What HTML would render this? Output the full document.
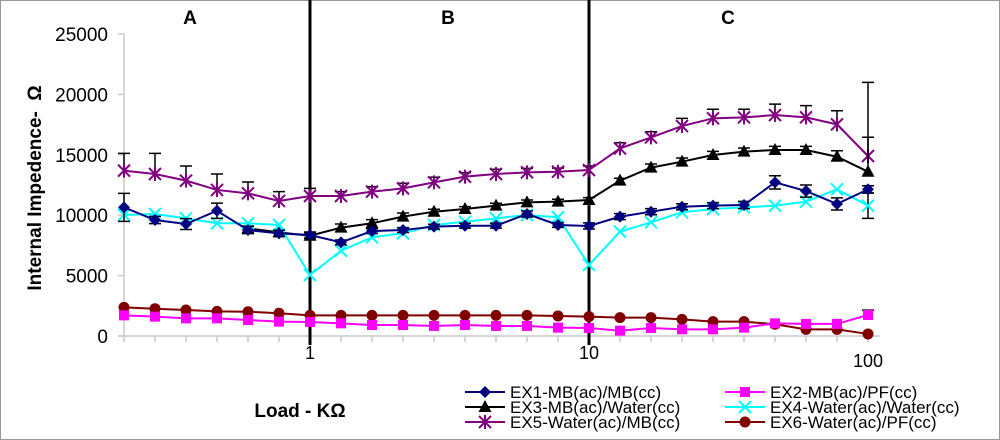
<!DOCTYPE html>
<html><head><meta charset="utf-8"><style>
html,body{margin:0;padding:0;background:#fff;}
svg{display:block;font-family:"Liberation Sans",sans-serif;}
</style></head><body>
<svg id="chart" width="1000" height="440" viewBox="0 0 1000 440" xmlns="http://www.w3.org/2000/svg">
<rect x="0.5" y="0.5" width="999" height="439" fill="#fff" stroke="#999"/>
<g id="plot"></g>
<text x="190" y="24" font-size="19" font-weight="bold" text-anchor="middle">A</text>
<text x="448" y="24" font-size="19" font-weight="bold" text-anchor="middle">B</text>
<text x="728" y="24" font-size="19" font-weight="bold" text-anchor="middle">C</text>
<text xml:space="preserve" style="white-space:pre" transform="translate(41,188) rotate(-90)" font-size="19" font-weight="bold" text-anchor="middle">Internal Impedence-  Ω</text>
<text x="300" y="417" font-size="19" font-weight="bold" text-anchor="middle">Load - KΩ</text>
<g id="legend"></g>
</svg>
<script>
const categories = [0.215,0.278,0.359,0.464,0.599,0.774,1,1.29,1.67,2.15,2.78,3.59,4.64,5.99,7.74,10,12.9,16.7,21.5,27.8,35.9,46.4,59.9,77.4,100];
const xTickLabels = ["1","10","100"];
const xTickIndex = [6,15,24];
const yTicks = [0,5000,10000,15000,20000,25000];
const ex1 = [10650,9600,9270,10370,8770,8500,8360,7750,8690,8770,9050,9130,9130,10100,9190,9110,9880,10290,10700,10790,10840,12720,12000,10930,12140];
const ex1Err = [1160,300,450,630,300,250,250,200,200,200,200,200,200,250,200,250,250,250,250,250,300,550,500,500,300];
const ex2 = [1710,1600,1460,1460,1320,1190,1160,1050,910,910,830,910,830,830,690,660,440,660,550,550,690,1050,1000,1000,1740];
const ex2Err = [0,0,0,0,0,0,0,0,0,0,0,0,0,0,0,0,0,0,0,0,0,0,0,0,400];
const ex3 = [null,null,null,null,8910,8580,8300,8970,9330,9880,10290,10510,10790,11060,11120,11260,12860,13940,14430,14980,15260,15400,15400,14840,13600];
const ex3Err = [0,0,0,0,200,200,250,300,300,300,200,200,200,200,200,200,200,300,300,300,300,300,300,500,7400];
const ex4 = [10020,10100,9740,9330,9330,9190,5050,7060,8170,8500,9190,9460,9740,10020,9830,5880,8640,9410,10240,10510,10650,10790,11120,12140,10790];
const ex4Err = [0,0,0,0,0,0,0,0,0,0,0,0,0,0,0,0,0,0,0,0,0,0,0,0,1050];
const ex5 = [13690,13410,12860,12090,11810,11180,11590,11590,11950,12220,12720,13190,13410,13550,13600,13740,15530,16440,17380,18020,18100,18290,18100,17520,14900];
const ex5Err = [1430,1710,1210,1320,940,770,630,360,410,420,420,330,390,330,300,330,470,470,640,750,670,910,970,1130,1550];
const ex6 = [2370,2260,2150,2040,2010,1880,1710,1710,1710,1710,1710,1710,1710,1710,1660,1600,1520,1520,1380,1190,1190,970,550,550,170];

const NS="http://www.w3.org/2000/svg";
const X0=124, STEP=31, Y0=336, YMAX=25000, YH=302;
function xPos(i){return X0+STEP*i;}
function yPos(v){return Y0-v/YMAX*YH;}
function mk(tag,attrs,parent){const e=document.createElementNS(NS,tag);for(const k in attrs)e.setAttribute(k,attrs[k]);parent.appendChild(e);return e;}
const plot=document.getElementById('plot');

let ax=mk('line',{x1:X0,y1:yPos(YMAX),x2:X0,y2:Y0+1,stroke:'#c8c8c8','stroke-width':1.5},plot);


let bx=mk('line',{x1:X0-6,y1:Y0,x2:880,y2:Y0,stroke:'#c8c8c8','stroke-width':1.5},plot);


yTicks.forEach(v=>{
  const y=yPos(v);
  let t=mk('line',{x1:X0-6,y1:y,x2:X0,y2:y,stroke:'#c8c8c8','stroke-width':1.5},plot);
  
  
  let l=mk('text',{x:108,y:y+7,'font-size':19,'text-anchor':'end'},plot);
  l.textContent=String(v);
  
  
});
categories.forEach((c,i)=>{
  let t=mk('line',{x1:xPos(i),y1:Y0,x2:xPos(i),y2:Y0+6,stroke:'#c8c8c8','stroke-width':1.5},plot);
  
  
});
xTickLabels.forEach((s,k)=>{
  const i=xTickIndex[k];
  let l=mk('text',{x:xPos(i),y:k===2?367:359,'font-size':18,'text-anchor':'middle'},plot);
  l.textContent=s;
  
  
});
[6,15].forEach(i=>{
  let d=mk('line',{x1:xPos(i),y1:0,x2:xPos(i),y2:345,stroke:'#000','stroke-width':3},plot);
  
  
});

function marker(g,type,x,y,color){
  let m;
  if(type==='diamond') m=mk('polygon',{points:`${x},${y-6} ${x+6},${y} ${x},${y+6} ${x-6},${y}`,fill:color},g);
  else if(type==='square') m=mk('rect',{x:x-5,y:y-5,width:10,height:10,fill:color},g);
  else if(type==='triangle') m=mk('polygon',{points:`${x},${y-7} ${x+6.5},${y+5} ${x-6.5},${y+5}`,fill:color},g);
  else if(type==='circle') m=mk('circle',{cx:x,cy:y,r:5.5,fill:color},g);
  else if(type==='x') m=mk('path',{d:`M${x-6},${y-6}L${x+6},${y+6}M${x+6},${y-6}L${x-6},${y+6}`,stroke:color,'stroke-width':2,fill:'none'},g);
  else if(type==='star') m=mk('path',{d:`M${x-6},${y-6}L${x+6},${y+6}M${x+6},${y-6}L${x-6},${y+6}M${x},${y-7}L${x},${y+7}`,stroke:color,'stroke-width':2,fill:'none'},g);
  return m;
}
const series=[
 {name:'ex1',vals:ex1,err:ex1Err,color:'#000080',m:'diamond',sym:true,label:'EX1-MB(ac)/MB(cc)'},
 {name:'ex2',vals:ex2,err:ex2Err,color:'#ff00ff',m:'square',sym:false,label:'EX2-MB(ac)/PF(cc)'},
 {name:'ex3',vals:ex3,err:ex3Err,color:'#000000',m:'triangle',sym:false,label:'EX3-MB(ac)/Water(cc)'},
 {name:'ex4',vals:ex4,err:ex4Err,color:'#00ffff',m:'x',sym:true,label:'EX4-Water(ac)/Water(cc)'},
 {name:'ex5',vals:ex5,err:ex5Err,color:'#800080',m:'star',sym:false,label:'EX5-Water(ac)/MB(cc)'},
 {name:'ex6',vals:ex6,err:null,color:'#800000',m:'circle',sym:false,label:'EX6-Water(ac)/PF(cc)'}
];
const drawOrder=[5,1,4,2,3,0];
drawOrder.forEach(si=>{
  const s=series[si];
  const g=mk('g',{},plot);
  
  
  if(s.err){
    s.vals.forEach((v,i)=>{
      if(v==null||!s.err[i])return;
      const x=xPos(i),yt=yPos(v+s.err[i]),yb=s.sym?yPos(v-s.err[i]):yPos(v);
      let e=mk('path',{d:`M${x},${yb}L${x},${yt}M${x-6},${yt}L${x+6},${yt}`+(s.sym?`M${x-6},${yb}L${x+6},${yb}`:''),stroke:'#000','stroke-width':1.5,fill:'none'},g);
      
      
    });
  }
  let d='';
  s.vals.forEach((v,i)=>{if(v==null)return;d+=(d?'L':'M')+xPos(i)+','+yPos(v);});
  let p=mk('path',{d:d,stroke:s.color,'stroke-width':2,fill:'none'},g);
  
  
  s.vals.forEach((v,i)=>{
    if(v==null)return;
    let m=marker(g,s.m,xPos(i),yPos(v),s.color);
    
    
  });
});
const lg=document.getElementById('legend');
series.forEach((s,i)=>{
  const col=i%2,row=Math.floor(i/2);
  const x=col?725:465,y=392+row*15;
  const g=mk('g',{},lg);
  
  
  mk('line',{x1:x,y1:y,x2:x+40,y2:y,stroke:s.color,'stroke-width':2},g);
  marker(g,s.m,x+20,y,s.color);
  let t=mk('text',{x:x+45,y:y+6,'font-size':17},g);
  t.textContent=s.label;
});
</script>
</body></html>
